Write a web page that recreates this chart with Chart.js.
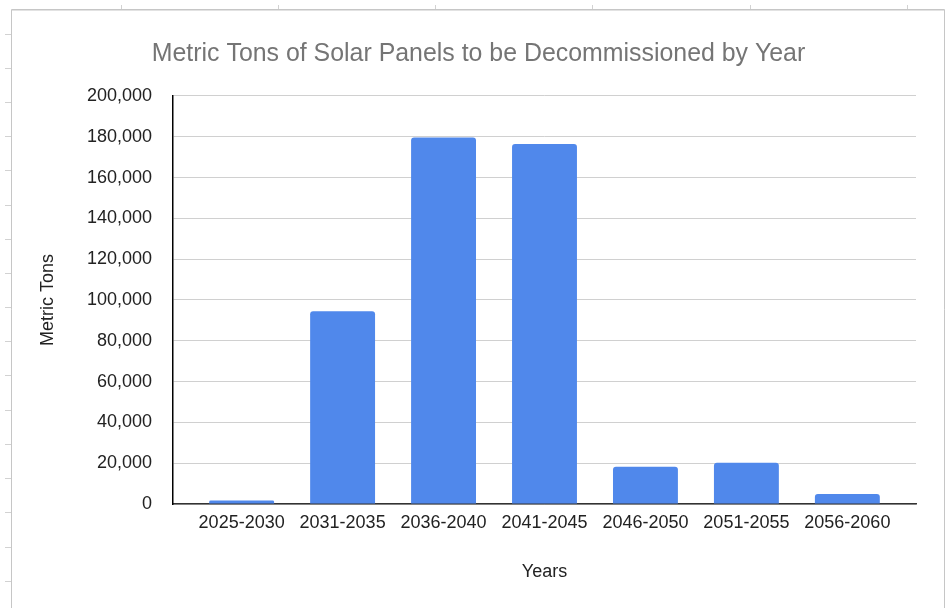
<!DOCTYPE html>
<html>
<head>
<meta charset="utf-8">
<script src="https://cdn.jsdelivr.net/npm/chart.js@4/dist/chart.umd.min.js"></script>
<style>
  html, body { margin: 0; padding: 0; background: #ffffff; }
  #c { display: block; }
</style>
</head>
<body>
<canvas id="c" width="946" height="608"></canvas>
<script>
const categories = ['2025-2030', '2031-2035', '2036-2040', '2041-2045', '2046-2050', '2051-2055', '2056-2060'];
const metricTons = [1700, 94500, 179700, 176500, 18300, 20200, 4900];
const yTicks = [0, 20000, 40000, 60000, 80000, 100000, 120000, 140000, 160000, 180000, 200000];

const FONT = "'Liberation Sans', Arial, Helvetica, sans-serif";

const framePlugin = {
  id: 'sheetFrame',
  beforeDraw(chart) {
    const ctx = chart.ctx;
    ctx.save();
    ctx.fillStyle = '#ffffff';
    ctx.fillRect(0, 0, chart.width, chart.height);
    ctx.strokeStyle = '#d2d2d2';
    ctx.lineWidth = 1;
    for (let y = 33.5; y < chart.height; y += 34.2) {
      ctx.beginPath();
      ctx.moveTo(5, Math.round(y) + 0.5);
      ctx.lineTo(11, Math.round(y) + 0.5);
      ctx.stroke();
    }
    for (let x = 120.7; x < chart.width; x += 157.2) {
      ctx.beginPath();
      ctx.moveTo(Math.round(x) + 0.5, 5);
      ctx.lineTo(Math.round(x) + 0.5, 9);
      ctx.stroke();
    }
    ctx.strokeStyle = '#c6c6c6';
    ctx.beginPath();
    ctx.moveTo(11.5, chart.height + 2);
    ctx.lineTo(11.5, 9.5);
    ctx.lineTo(944.5, 9.5);
    ctx.lineTo(944.5, chart.height + 2);
    ctx.stroke();
    ctx.strokeStyle = '#e2e2e2';
    ctx.beginPath();
    ctx.moveTo(12, 10.5);
    ctx.lineTo(944, 10.5);
    ctx.stroke();
    ctx.restore();
  }
};

new Chart(document.getElementById('c'), {
  type: 'bar',
  data: {
    labels: categories,
    datasets: [{
      label: 'Metric Tons',
      data: metricTons,
      backgroundColor: '#5088eb',
      borderWidth: 0,
      borderRadius: 3,
      categoryPercentage: 1,
      barPercentage: 0.643
    }]
  },
  options: {
    responsive: false,
    animation: false,
    devicePixelRatio: 1,
    layout: { padding: { left: 41, right: 30, top: 0, bottom: 0 } },
    plugins: {
      legend: { display: false },
      tooltip: { enabled: false },
      title: {
        display: true,
        text: 'Metric Tons of Solar Panels to be Decommissioned by Year',
        color: '#757575',
        font: { family: FONT, size: 24.9, weight: 'normal' },
        padding: { top: 39, bottom: 27.1 }
      }
    },
    scales: {
      x: {
        type: 'category',
        offset: true,
        afterBuildTicks(scale) {
          // extra side room inside the plot, as in the reference
          scale._startValue = -0.68;
          scale._valueRange = categories.length - 1 + 1.36;
        },
        afterFit(scale) { scale.height = 104; },
        grid: { display: false, drawTicks: false },
        border: { display: true, color: '#333333', width: 1.5 },
        ticks: {
          autoSkip: false,
          maxRotation: 0,
          minRotation: 0,
          padding: 8,
          color: '#222222',
          font: { family: FONT, size: 18 }
        },
        title: {
          display: true,
          text: 'Years',
          color: '#222222',
          font: { family: FONT, size: 18 },
          padding: { top: 0, bottom: 25.5 }
        }
      },
      y: {
        min: yTicks[0],
        max: yTicks[yTicks.length - 1],
        afterFit(scale) { scale.width = 132; },
        afterBuildTicks(scale) { scale.ticks = yTicks.map(v => ({ value: v })); },
        grid: { color: '#d0d0d0', lineWidth: 1, drawTicks: false },
        border: { display: true, color: '#000000', width: 1.5 },
        ticks: {
          padding: 21,
          color: '#222222',
          font: { family: FONT, size: 18 },
          callback: (v) => v.toLocaleString('en-US')
        },
        title: {
          display: true,
          text: 'Metric Tons',
          color: '#222222',
          font: { family: FONT, size: 18 },
          padding: { top: -3.8, bottom: 0 }
        }
      }
    }
  },
  plugins: [framePlugin]
});
</script>
</body>
</html>
